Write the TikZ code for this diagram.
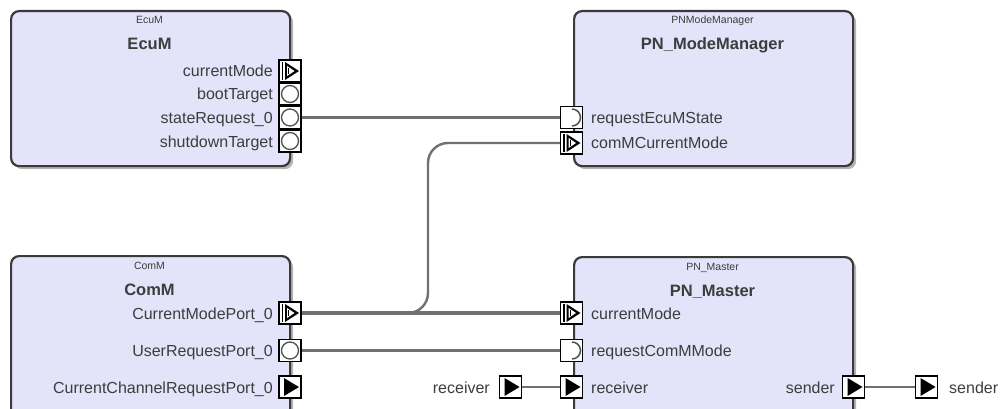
\documentclass[tikz,border=0pt]{standalone}
\usepackage{fontspec}
\setmainfont{Liberation Sans}
\usetikzlibrary{shadows,backgrounds}

\definecolor{compfill}{HTML}{E3E3F9}
\definecolor{compedge}{HTML}{3A3A3A}
\definecolor{wire}{HTML}{707070}
\definecolor{txt}{HTML}{3D3D3D}
\definecolor{shade}{HTML}{B4B4B4}
\definecolor{ring}{HTML}{505050}

% point relative to the centre of a port symbol
\newcommand\ppc[2]{([shift={(#1,#2)}]path picture bounding box.center)}

\tikzset{
  comp/.style={draw=compedge, line width=2.2pt, fill=compfill, rounded corners=8pt,
    inner sep=0pt, anchor=north west,
    general shadow={fill=shade, draw=none, shadow xshift=3pt, shadow yshift=-3pt}},
  smalltitle/.style={font=\fontsize{10.5}{12}\selectfont, text=txt, anchor=base},
  bigtitle/.style={font=\bfseries\fontsize{16.5}{19}\selectfont, text=txt, anchor=base},
  lbl/.style={font=\fontsize{16}{19}\selectfont, text=txt, inner sep=0pt},
  lblL/.style={lbl, anchor=base east},
  lblR/.style={lbl, anchor=base west},
  portbox/.style={rectangle, draw=black, fill=white, line width=1.2pt,
    minimum width=22pt, minimum height=22pt, inner sep=0pt},
  srport/.style={portbox, path picture={
    \fill[black] \ppc{-6}{-9} -- \ppc{9}{0} -- \ppc{-6}{9} -- cycle;}},
  modeport/.style={portbox, path picture={
    \draw[black, line width=1.8pt] \ppc{-7.5}{-9} -- \ppc{-7.5}{9};
    \fill[black] \ppc{-5}{-9} -- \ppc{9}{0} -- \ppc{-5}{9} -- cycle;
    \fill[white] \ppc{-3}{-5} -- \ppc{4.5}{0} -- \ppc{-3}{5} -- cycle;
    \draw[black, line width=0.9pt] \ppc{-1.5}{-3} -- \ppc{-1.5}{3};}},
  serverport/.style={portbox, path picture={
    \draw[ring, line width=1.3pt] \ppc{0}{0} circle[radius=8.5];}},
  clientport/.style={portbox, path picture={
    \draw[ring, line width=1.5pt] \ppc{0.5}{-8.5} arc[start angle=-90, end angle=90, radius=8.5];}},
  wireline/.style={draw=wire, line width=2.4pt},
}

\begin{document}
\begin{tikzpicture}[x=1pt, y=-1pt]
\useasboundingbox (0,0) rectangle (1001,409);
\clip (0,0) rectangle (1001,409);

% ---------------- components ----------------
\node[comp, minimum width=279pt, minimum height=155pt] (ecum) at (10,10) {};
\node[comp, minimum width=279pt, minimum height=155pt] (pnmm) at (573,10) {};
\node[comp, minimum width=279pt, minimum height=175pt] (comm) at (10,255) {};
\node[comp, minimum width=279pt, minimum height=175pt] (pnm) at (573,256) {};

% component titles
\node[smalltitle] (ecumtype) at (149.5,23.5) {EcuM};
\node[bigtitle]   (ecumname) at (149.5,50) {EcuM};
\node[smalltitle] (pnmmtype) at (712.5,23.5) {PNModeManager};
\node[bigtitle]   (pnmmname) at (712.5,50) {PN\_ModeManager};
\node[smalltitle] (commtype) at (149.5,269.5) {ComM};
\node[bigtitle]   (commname) at (149.5,295) {ComM};
\node[smalltitle] (pnmtype)  at (712.5,270.5) {PN\_Master};
\node[bigtitle]   (pnmname)  at (712.5,296) {PN\_Master};

% ---------------- EcuM ports ----------------
\node[modeport]   (e1) at (290,71)    {};
\node[serverport] (e2) at (290,94)    {};
\node[serverport] (e3) at (290,117.5) {};
\node[serverport] (e4) at (290,141)   {};
\node[lblL] (e1l) at (273,77)    {currentMode};
\node[lblL] (e2l) at (273,100)   {bootTarget};
\node[lblL] (e3l) at (273,123.5) {stateRequest\_0};
\node[lblL] (e4l) at (273,147)   {shutdownTarget};

% ---------------- PN_ModeManager ports ----------------
\node[clientport] (m1) at (571.5,117.5) {};
\node[modeport]   (m2) at (571.5,143) {};
\node[lblR] (m1l) at (591,123.5) {requestEcuMState};
\node[lblR] (m2l) at (591,149) {comMCurrentMode};

% ---------------- ComM ports ----------------
\node[modeport]   (c1) at (290,313) {};
\node[serverport] (c2) at (290,350.5) {};
\node[srport]     (c3) at (290,387) {};
\node[lblL] (c1l) at (273,319) {CurrentModePort\_0};
\node[lblL] (c2l) at (273,356.5) {UserRequestPort\_0};
\node[lblL] (c3l) at (273,393) {CurrentChannelRequestPort\_0};

% ---------------- PN_Master ports ----------------
\node[modeport]   (p1) at (571.5,313) {};
\node[clientport] (p2) at (571.5,350.5) {};
\node[srport]     (p3) at (571.5,387) {};
\node[srport]     (p4) at (853.5,387) {};
\node[lblR] (p1l) at (591,319) {currentMode};
\node[lblR] (p2l) at (591,356.5) {requestComMMode};
\node[lblR] (p3l) at (591,393) {receiver};
\node[lblL] (p4l) at (835,393) {sender};

% ---------------- delegation ports ----------------
\node[srport] (rx) at (510.5,387) {};
\node[srport] (tx) at (926.5,387) {};
\node[lblL] (rxl) at (490,393) {receiver};
\node[lblR] (txl) at (949,393) {sender};

% ---------------- connectors (behind the ports) ----------------
\coordinate (riser) at (428,0);
\begin{scope}[on background layer]
\draw[wireline] (e3.east) -- (m1.west);
\draw[wireline, line width=3.4pt] (c1.east) -- (p1.west);
\draw[wireline, rounded corners=20pt] (c1.east) -| (riser |- m2.west) -- (m2.west);
\draw[wireline] (c2.east) -- (p2.west);
\draw[wireline] (rx.east) -- (p3.west);
\draw[wireline] (p4.east) -- (tx.west);
\end{scope}
\end{tikzpicture}
\end{document}
